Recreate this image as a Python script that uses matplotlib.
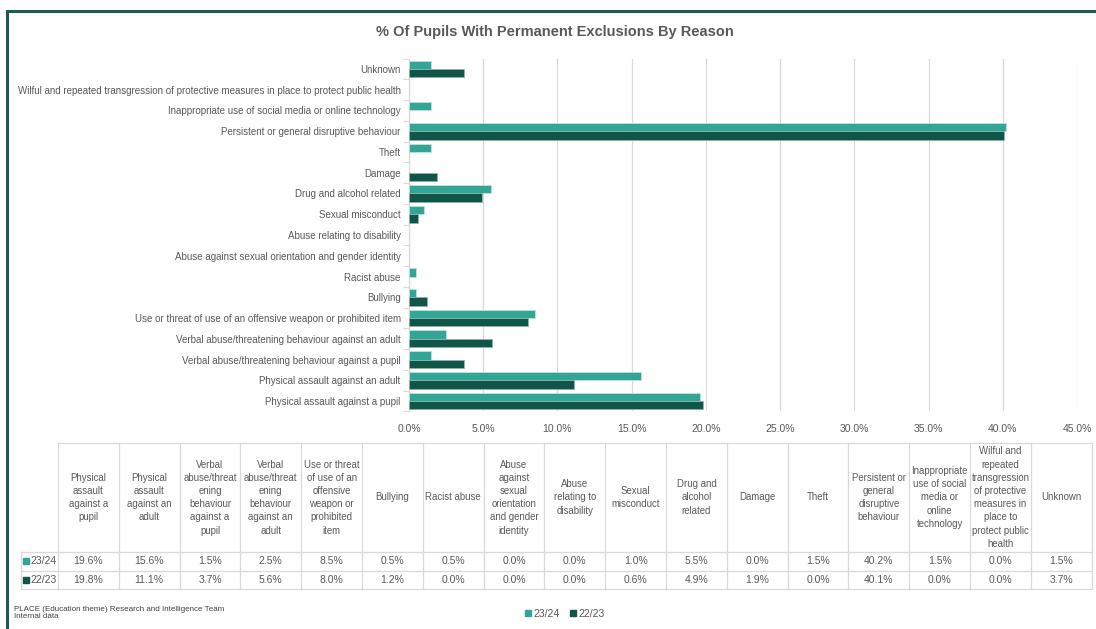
import numpy as np
import matplotlib.pyplot as plt
from matplotlib.patches import Rectangle
from matplotlib.lines import Line2D
import matplotlib.ticker as mticker

plt.rcParams['font.family'] = ['Liberation Sans', 'DejaVu Sans']

# data (table order, bottom of chart first)
reasons = ['Physical assault against a pupil',
           'Physical assault against an adult',
           'Verbal abuse/threatening behaviour against a pupil',
           'Verbal abuse/threatening behaviour against an adult',
           'Use or threat of use of an offensive weapon or prohibited item',
           'Bullying',
           'Racist abuse',
           'Abuse against sexual orientation and gender identity',
           'Abuse relating to disability',
           'Sexual misconduct',
           'Drug and alcohol related',
           'Damage',
           'Theft',
           'Persistent or general disruptive behaviour',
           'Inappropriate use of social media or online technology',
           'Wilful and repeated transgression of protective measures in place to protect public health',
           'Unknown']

table_headers = ['Physical\nassault\nagainst a\npupil',
                 'Physical\nassault\nagainst an\nadult',
                 'Verbal\nabuse/threat\nening\nbehaviour\nagainst a\npupil',
                 'Verbal\nabuse/threat\nening\nbehaviour\nagainst an\nadult',
                 'Use or threat\nof use of an\noffensive\nweapon or\nprohibited\nitem',
                 'Bullying',
                 'Racist abuse',
                 'Abuse\nagainst\nsexual\norientation\nand gender\nidentity',
                 'Abuse\nrelating to\ndisability',
                 'Sexual\nmisconduct',
                 'Drug and\nalcohol\nrelated',
                 'Damage',
                 'Theft',
                 'Persistent or\ngeneral\ndisruptive\nbehaviour',
                 'Inappropriate\nuse of social\nmedia or\nonline\ntechnology',
                 'Wilful and\nrepeated\ntransgression\nof protective\nmeasures in\nplace to\nprotect public\nhealth',
                 'Unknown']

series_names = ['23/24', '22/23']
y2324 = [19.6, 15.6, 1.5, 2.5, 8.5, 0.5, 0.5, 0.0, 0.0, 1.0, 5.5, 0.0, 1.5, 40.2, 1.5, 0.0, 1.5]
y2223 = [19.8, 11.1, 3.7, 5.6, 8.0, 1.2, 0.0, 0.0, 0.0, 0.6, 4.9, 1.9, 0.0, 40.1, 0.0, 0.0, 3.7]

col_new = '#31A696'
col_old = '#0F5649'
grey_txt = '#595959'
grid_col = '#D9D9D9'

W, H = 1096, 629
fig = plt.figure(figsize=(W / 100, H / 100), dpi=100)

# outer border
fig.patches.append(Rectangle((7 / W, -0.1), 1.2, 1 - 11 / H + 0.1, transform=fig.transFigure,
                             fill=False, edgecolor='#1B5E4F', linewidth=2.2, zorder=0))

# bar chart
ax = fig.add_axes([409 / W, 1 - 411.4 / H, 668 / W, 352.8 / H])
idx = np.arange(len(reasons))
bh = 0.4
ax.barh(idx + bh / 2, y2324, bh, color=col_new, edgecolor='#BFE3DC',
        linewidth=[0.6 if v > 0 else 0 for v in y2324], zorder=3, label=series_names[0])
ax.barh(idx - bh / 2, y2223, bh, color=col_old, edgecolor='#8FB3AC',
        linewidth=[0.6 if v > 0 else 0 for v in y2223], zorder=3, label=series_names[1])
ax.set_xlim(0, 45)
ax.set_ylim(-0.5, len(reasons) - 0.5)
ax.xaxis.set_major_locator(mticker.MultipleLocator(5))
ax.xaxis.set_major_formatter(mticker.FuncFormatter(lambda v, p: f'{v:.1f}%'))
ax.grid(axis='x', color=grid_col, linewidth=0.9, zorder=0)
ax.set_yticks(idx)
ax.set_yticklabels(reasons)
ax.set_yticks(np.arange(-0.5, len(reasons), 1), minor=True)
ax.tick_params(axis='y', which='major', length=0, pad=6, labelsize=7, labelcolor=grey_txt)
ax.tick_params(axis='y', which='minor', length=4, color=grid_col, width=0.8)
ax.tick_params(axis='x', length=0, pad=9, labelsize=7.5, labelcolor=grey_txt)
for s in ['top', 'right', 'bottom']:
    ax.spines[s].set_visible(False)
ax.spines['left'].set_color(grid_col)
ax.spines['left'].set_linewidth(0.9)

fig.text(555 / W, 1 - 32 / H, '% Of Pupils With Permanent Exclusions By Reason', ha='center', va='center',
         fontsize=10.5, fontweight='bold', color=grey_txt)

# data table drawn in pixel coordinates
tb = fig.add_axes([0, 0, 1, 1])
tb.set_xlim(0, W)
tb.set_ylim(H, 0)
tb.axis('off')
x_lab, x0, cw = 21, 58, 60.8
y_top, y_hdr, y_r1, y_r2 = 443, 552, 570.5, 589
ncol = len(reasons)
x_end = x0 + ncol * cw
lk = dict(color=grid_col, linewidth=0.9)
tb.plot([x0, x_end], [y_top, y_top], **lk)
for yy in [y_hdr, y_r1, y_r2]:
    tb.plot([x_lab, x_end], [yy, yy], **lk)
tb.plot([x_lab, x_lab], [y_hdr, y_r2], **lk)
for i in range(ncol + 1):
    tb.plot([x0 + i * cw] * 2, [y_top, y_r2], **lk)
for i, h in enumerate(table_headers):
    tb.text(x0 + (i + 0.5) * cw, (y_top + y_hdr) / 2, h, ha='center', va='center',
            fontsize=6.9, color=grey_txt, linespacing=1.4)
rows = [(series_names[0], y2324, col_new, y_hdr, y_r1), (series_names[1], y2223, col_old, y_r1, y_r2)]
for name, vals, c, ya, yb in rows:
    yc = (ya + yb) / 2
    tb.plot([x_lab + 5], [yc], marker='s', markersize=4, color=c, linestyle='none')
    tb.text(x_lab + 9, yc, name, ha='left', va='center', fontsize=7.5, color=grey_txt)
    for i, v in enumerate(vals):
        tb.text(x0 + (i + 0.5) * cw, yc, f'{v:.1f}%', ha='center', va='center', fontsize=7.5, color=grey_txt)

# footer and legend
fig.text(14 / W, 1 - 613 / H, 'PLACE (Education theme) Research and Intelligence Team\nInternal data',
         ha='left', va='center', fontsize=5.8, color='#404040', linespacing=1.1)
handles = [Line2D([], [], marker='s', markersize=4, color=c, linestyle='none') for c in [col_new, col_old]]
fig.legend(handles, series_names, loc='center', bbox_to_anchor=(565 / W, 1 - 614 / H), ncol=2, frameon=False,
           fontsize=7.5, handlelength=0.6, handletextpad=0.2, columnspacing=1.0, labelcolor=grey_txt)

fig.savefig('out.png', dpi=100, facecolor='white')
